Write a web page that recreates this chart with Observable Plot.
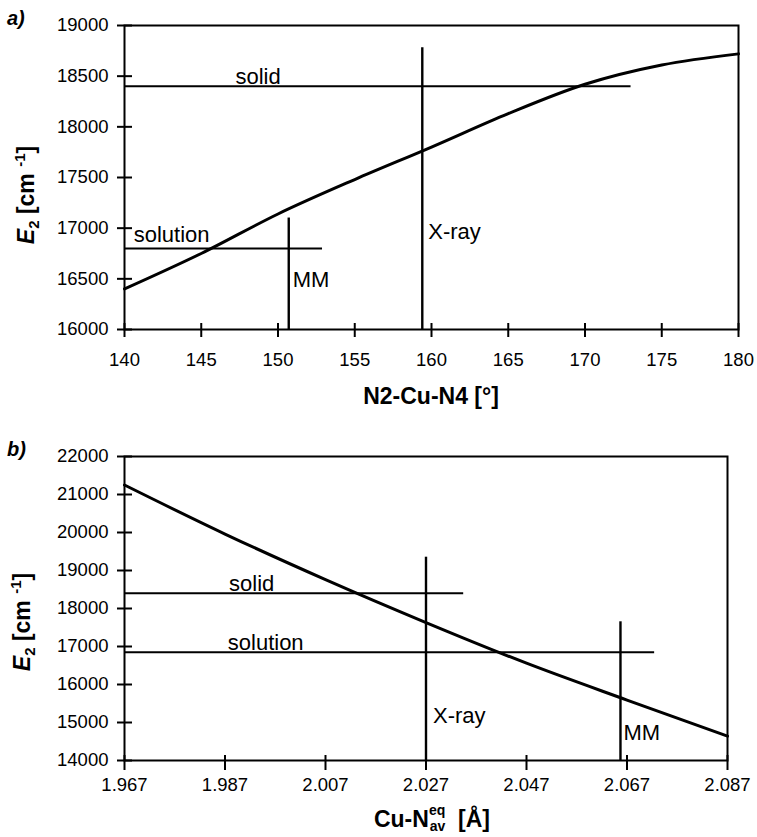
<!DOCTYPE html>
<html>
<head>
<meta charset="utf-8">
<script src="https://cdn.jsdelivr.net/npm/d3@7"></script>
<script src="https://cdn.jsdelivr.net/npm/@observablehq/plot@0.6"></script>
<style>
  body { margin: 0; background: #fff; }
  #wrap { position: relative; width: 757px; height: 837px; overflow: hidden; background: #fff; }
  #wrap svg { position: absolute; left: 0; display: block; }
</style>
</head>
<body>
<div id="wrap"></div>
<script>
// ---------- Panel a) : E2 vs N2-Cu-N4 angle ----------
const angleDeg   = [140, 145, 150, 155, 160, 165, 170, 175, 180];
const e2ByAngle  = [16400, 16750, 17140, 17480, 17800, 18130, 18420, 18610, 18720];
const angleTicks = [140, 145, 150, 155, 160, 165, 170, 175, 180];
const e2TicksA   = [16000, 16500, 17000, 17500, 18000, 18500, 19000];
const hLabelsA   = ["solid", "solution"];
const hValuesA   = [18400, 16800];
const hEndsA     = [173.0, 152.9];
const vLabelsA   = ["X-ray", "MM"];
const vValuesA   = [159.4, 150.7];
const vTopsA     = [18780, 17100];

// ---------- Panel b) : E2 vs Cu-N(eq,av) distance ----------
const distA      = [1.967, 1.987, 2.007, 2.027, 2.047, 2.067, 2.087];
const e2ByDist   = [21250, 19960, 18760, 17630, 16560, 15590, 14640];
const distTicks  = [1.967, 1.987, 2.007, 2.027, 2.047, 2.067, 2.087];
const e2TicksB   = [14000, 15000, 16000, 17000, 18000, 19000, 20000, 21000, 22000];
const hLabelsB   = ["solid", "solution"];
const hValuesB   = [18400, 16850];
const hEndsB     = [2.0345, 2.0725];
const vLabelsB   = ["X-ray", "MM"];
const vValuesB   = [2.027, 2.0657];
const vTopsB     = [19350, 17650];

const FONT = '"Liberation Sans", Arial, Helvetica, sans-serif';
const wrap = document.getElementById("wrap");

function hRows(labels, vals, ends, start) {
  return labels.map((l, i) => ({label: l, y: vals[i], x1: start, x2: ends[i]}));
}
function vRows(labels, vals, tops, bottom) {
  return labels.map((l, i) => ({label: l, x: vals[i], y1: bottom, y2: tops[i]}));
}

// Axis: crossing tick marks + tick labels, all through the plot's scales
function axes(xTicks, yTicks, frameW, frameH, xIn, xOut, xPad, xFmt) {
  return [
    Plot.tickY(yTicks, {y: d => d, insetLeft: -7, insetRight: frameW - 8, stroke: "#000", strokeWidth: 2}),
    Plot.tickX(xTicks, {x: d => d, insetTop: frameH - xIn, insetBottom: -xOut, stroke: "#000", strokeWidth: 2}),
    Plot.text(yTicks, {y: d => d, text: d => String(d), frameAnchor: "left", textAnchor: "end", dx: -16, fontSize: 18.5, fill: "#000"}),
    Plot.text(xTicks, {x: d => d, text: xFmt, frameAnchor: "bottom", textAnchor: "middle", lineAnchor: "top", dy: xPad, fontSize: 18.5, fill: "#000"})
  ];
}

// ----- panel a
const curveA = angleDeg.map((x, i) => ({x, y: e2ByAngle[i]}));
const hA = hRows(hLabelsA, hValuesA, hEndsA, angleDeg[0]);
const vA = vRows(vLabelsA, vValuesA, vTopsA, e2TicksA[0]);

const plotA = Plot.plot({
  width: 757, height: 430,
  marginTop: 25, marginBottom: 101, marginLeft: 124, marginRight: 19,
  style: {fontFamily: FONT, fontSize: "18px", color: "#000", background: "transparent", overflow: "visible"},
  x: {domain: [140, 180], axis: null},
  y: {domain: [16000, 19000], axis: null},
  marks: [
    ...axes(angleTicks, e2TicksA, 614, 304, 6, 8, 23, d => String(d)),
    Plot.frame({stroke: "#000", strokeWidth: 2}),
    Plot.ruleY(hA, {y: "y", x1: "x1", x2: "x2", stroke: "#000", strokeWidth: 2}),
    Plot.ruleX(vA, {x: "x", y1: "y1", y2: "y2", stroke: "#000", strokeWidth: 2.4}),
    Plot.line(curveA, {x: "x", y: "y", curve: "monotone-x", stroke: "#000", strokeWidth: 3}),
    Plot.text([hA[0]], {x: () => 148.7, y: "y", text: "label", textAnchor: "middle", lineAnchor: "bottom", dy: -2, fontSize: 22}),
    Plot.text([hA[1]], {x: () => 140.6, y: "y", text: "label", textAnchor: "start", lineAnchor: "bottom", dy: -6, fontSize: 22}),
    Plot.text([vA[0]], {x: "x", y: () => 16890, text: "label", textAnchor: "start", lineAnchor: "bottom", dx: 6, fontSize: 22}),
    Plot.text([vA[1]], {x: "x", y: () => 16424, text: "label", textAnchor: "start", lineAnchor: "bottom", dx: 4, fontSize: 22})
  ]
});
plotA.style.top = "0px";
wrap.appendChild(plotA);

// ----- panel b
const curveB = distA.map((x, i) => ({x, y: e2ByDist[i]}));
const hB = hRows(hLabelsB, hValuesB, hEndsB, distA[0]);
const vB = vRows(vLabelsB, vValuesB, vTopsB, e2TicksB[0]);

const plotB = Plot.plot({
  width: 757, height: 407,
  marginTop: 26, marginBottom: 77, marginLeft: 124, marginRight: 30,
  style: {fontFamily: FONT, fontSize: "18px", color: "#000", background: "transparent", overflow: "visible"},
  x: {domain: [1.967, 2.087], axis: null},
  y: {domain: [14000, 22000], axis: null},
  marks: [
    ...axes(distTicks, e2TicksB, 603, 304, 5, 10, 17, d3.format(".3f")),
    Plot.frame({stroke: "#000", strokeWidth: 2}),
    Plot.ruleY(hB, {y: "y", x1: "x1", x2: "x2", stroke: "#000", strokeWidth: 2}),
    Plot.ruleX(vB, {x: "x", y1: "y1", y2: "y2", stroke: "#000", strokeWidth: 2.4}),
    Plot.line(curveB, {x: "x", y: "y", curve: "monotone-x", stroke: "#000", strokeWidth: 3}),
    Plot.text([hB[0]], {x: () => 1.9923, y: "y", text: "label", textAnchor: "middle", lineAnchor: "bottom", dy: -2, fontSize: 22}),
    Plot.text([hB[1]], {x: () => 1.9951, y: "y", text: "label", textAnchor: "middle", lineAnchor: "bottom", dy: -2, fontSize: 22}),
    Plot.text([vB[0]], {x: "x", y: () => 15000, text: "label", textAnchor: "start", lineAnchor: "bottom", dx: 7, fontSize: 22}),
    Plot.text([vB[1]], {x: "x", y: () => 14550, text: "label", textAnchor: "start", lineAnchor: "bottom", dx: 3, fontSize: 22})
  ]
});
plotB.style.top = "430px";
wrap.appendChild(plotB);

// ----- axis titles and panel letters (rich text with sub/superscripts)
function yTitle(svg, cx, cy) {
  const t = d3.select(svg).append("text")
    .attr("transform", `translate(${cx},${cy}) rotate(-90)`)
    .attr("text-anchor", "middle")
    .attr("dy", "0.35em")
    .attr("font-family", FONT).attr("font-weight", "bold").attr("font-size", 23).attr("fill", "#000");
  t.append("tspan").attr("font-style", "italic").text("E");
  t.append("tspan").attr("font-size", 15).attr("dy", 5).text("2");
  t.append("tspan").attr("dy", -5).text(" [cm ");
  t.append("tspan").attr("font-size", 15).attr("dy", -9).text("-1");
  t.append("tspan").attr("dy", 9).text("]");
}
function letter(svg, x, y, s) {
  d3.select(svg).append("text").attr("x", x).attr("y", y)
    .attr("text-anchor", "start")
    .attr("font-family", FONT).attr("font-style", "italic").attr("font-weight", "bold")
    .attr("font-size", 20).attr("fill", "#000")
    .text(s);
}

yTitle(plotA, 26, 195);
letter(plotA, 7, 25, "a)");
d3.select(plotA).append("text").attr("x", 431).attr("y", 404)
  .attr("text-anchor", "middle").attr("font-family", FONT).attr("font-weight", "bold")
  .attr("font-size", 23).attr("fill", "#000").text("N2-Cu-N4 [°]");

yTitle(plotB, 22, 622 - 430);
letter(plotB, 7, 456 - 430, "b)");
{
  const t = d3.select(plotB).append("text").attr("x", 0).attr("y", 827 - 430)
    .attr("text-anchor", "start")
    .attr("font-family", FONT).attr("font-weight", "bold").attr("font-size", 23).attr("fill", "#000");
  t.append("tspan").text("Cu-N");
  t.append("tspan").attr("font-size", 14).attr("dy", -12).text("eq");
  t.append("tspan").attr("font-size", 14).attr("dx", -15.5).attr("dy", 16).text("av");
  t.append("tspan").attr("dy", -4).text("  [Å]");
  const bb = t.node().getBBox();
  t.attr("x", 432 - bb.width / 2);
}
</script>
</body>
</html>
